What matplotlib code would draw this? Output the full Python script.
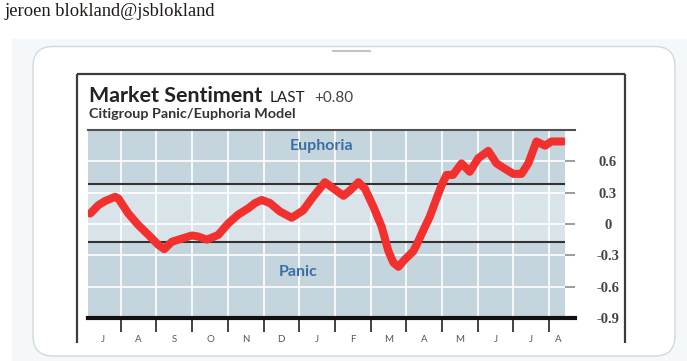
import matplotlib
matplotlib.use("Agg")
import matplotlib.pyplot as plt
from matplotlib.patches import FancyBboxPatch, Rectangle

# month index (0 = start of July) and Citigroup panic/euphoria reading
months = [0.14, 0.37, 0.56, 0.84, 0.93, 1.21, 1.49, 1.82, 2.05, 2.22,
          2.43, 2.71, 2.99, 3.17, 3.41, 3.73, 4.01, 4.29, 4.57, 4.76,
          4.95, 5.18, 5.46, 5.79, 6.11, 6.39, 6.72, 6.96, 7.24, 7.42,
          7.66, 7.84, 8.08, 8.31, 8.50, 8.64, 8.78, 8.96, 9.20, 9.29,
          9.52, 9.66, 9.80, 9.99, 10.13, 10.31, 10.55, 10.78, 11.02, 11.30,
          11.53, 11.76, 12.00, 12.23, 12.42, 12.65, 12.89, 13.07, 13.40]
sentiment = [0.10, 0.18, 0.22, 0.26, 0.245, 0.10, -0.01, -0.12, -0.20, -0.24,
             -0.17, -0.14, -0.11, -0.12, -0.15, -0.105, 0.005, 0.09, 0.15, 0.20,
             0.23, 0.20, 0.12, 0.06, 0.13, 0.26, 0.40, 0.34, 0.27, 0.32,
             0.40, 0.34, 0.165, -0.025, -0.26, -0.37, -0.41, -0.34, -0.26, -0.20,
             -0.03, 0.07, 0.20, 0.37, 0.47, 0.47, 0.58, 0.50, 0.63, 0.70,
             0.58, 0.53, 0.48, 0.48, 0.58, 0.79, 0.75, 0.79, 0.79]

euphoria = 0.38
panic = -0.17
month_labels = ['J', 'A', 'S', 'O', 'N', 'D', 'J', 'F', 'M', 'A', 'M', 'J', 'J', 'A']
month_label_pos = [i + 0.5 for i in range(13)] + [13.25]
month_ticks = list(range(1, 14))
y_ticks = [0.6, 0.3, 0, -0.3, -0.6, -0.9]
y_labels = ['0.6', '0.3', '0', '-0.3', '-0.6', '-0.9']

W, H = 687, 361
fig = plt.figure(figsize=(W / 100, H / 100), dpi=100)
fig.patch.set_facecolor('white')

# page / tweet card drawn in pixel coordinates
bg = fig.add_axes([0, 0, 1, 1], zorder=0)
bg.set_xlim(0, W)
bg.set_ylim(H, 0)
bg.axis('off')
bg.text(5, 16.5, 'jeroen blokland@jsblokland', fontfamily='Liberation Serif',
        fontsize=13.3, va='baseline', color='#1f1a17')
bg.add_patch(Rectangle((12, 39), W - 12, H - 39, fc='#f5f8fa', ec='none'))
bg.add_patch(FancyBboxPatch((33, 46.5), 642, 309.5,
                            boxstyle='round,pad=0,rounding_size=20',
                            fc='white', ec='#cfd9de', lw=1))
bg.plot([333, 370], [50.5, 50.5], color='#c4c4c4', lw=1.5)

# frame of the embedded chart image
for xs, ys in [([77, 625], [74, 74]), ([77, 77], [74, 343]), ([625, 625], [74, 343])]:
    bg.plot(xs, ys, color='#3c3c3c', lw=1.6, solid_capstyle='butt')

title_font = 'Lato'
bg.text(89, 102, 'Market Sentiment', fontfamily=title_font, fontweight='bold',
        fontsize=15.4, color='#222222', va='baseline')
bg.text(270, 102, 'LAST', fontfamily=title_font, fontsize=11,
        color='#222222', va='baseline')
bg.text(314, 102, '+0.80', fontfamily=title_font, fontsize=11,
        color='#444444', va='baseline')
bg.text(89, 118, 'Citigroup Panic/Euphoria Model', fontfamily=title_font,
        fontweight='bold', fontsize=10.4, color='#333333', va='baseline')

# chart
L, R, T, B = 88, 565, 130, 318
ax = fig.add_axes([L / W, 1 - B / H, (R - L) / W, (B - T) / H], zorder=1)
ax.set_facecolor('none')
ax.set_xlim(0.08, 13.45)
ax.set_ylim(-0.9, 0.9)

dark, light = '#c4d5de', '#d8e4ea'
ax.axhspan(euphoria, 0.9, color=dark, lw=0, zorder=0)
ax.axhspan(panic, euphoria, color=light, lw=0, zorder=0)
ax.axhspan(-0.9, panic, color=dark, lw=0, zorder=0)

ax.set_xticks(month_ticks)
ax.set_xticklabels([])
ax.set_xticks(month_label_pos, minor=True)
ax.set_xticklabels(month_labels, minor=True, fontfamily=title_font,
                   fontsize=7, color='#555555')
ax.tick_params(axis='x', which='major', direction='out', length=10,
               width=1.3, color='#333333')
ax.tick_params(axis='x', which='minor', length=0, pad=12)

ax.yaxis.tick_right()
ax.set_yticks(y_ticks)
ax.set_yticklabels(y_labels, fontfamily='Liberation Serif', fontweight='bold',
                   fontsize=10.5, color='#444444')
ax.tick_params(axis='y', direction='out', length=7, width=1.2,
               color='#8a8a8a', pad=24)
for lab in ax.get_yticklabels():
    lab.set_horizontalalignment('center')

ax.grid(True, which='major', color='white', lw=1.2)
for s in ax.spines.values():
    s.set_visible(False)

ax.axhline(0.9, xmin=0, xmax=1.021, color='#505050', lw=1.5, clip_on=False, zorder=2)
ax.axhline(-0.9, xmin=0, xmax=1.021, color='#111111', lw=3, clip_on=False, zorder=2)
ax.axhline(euphoria, color='#333333', lw=1.5, zorder=2)
ax.axhline(panic, color='#333333', lw=1.5, zorder=2)

ax.text(0.49, 0.915, 'Euphoria', transform=ax.transAxes, ha='center', va='center',
        fontfamily=title_font, fontweight='bold', fontsize=11.5, color='#3a6ea5')
ax.text(0.44, 0.245, 'Panic', transform=ax.transAxes, ha='center', va='center',
        fontfamily=title_font, fontweight='bold', fontsize=11.5, color='#3a6ea5')

ax.plot(months, sentiment, color='#f2302e', lw=5.8, solid_joinstyle='round',
        solid_capstyle='round', zorder=3)

fig.savefig('out.png', dpi=100)
